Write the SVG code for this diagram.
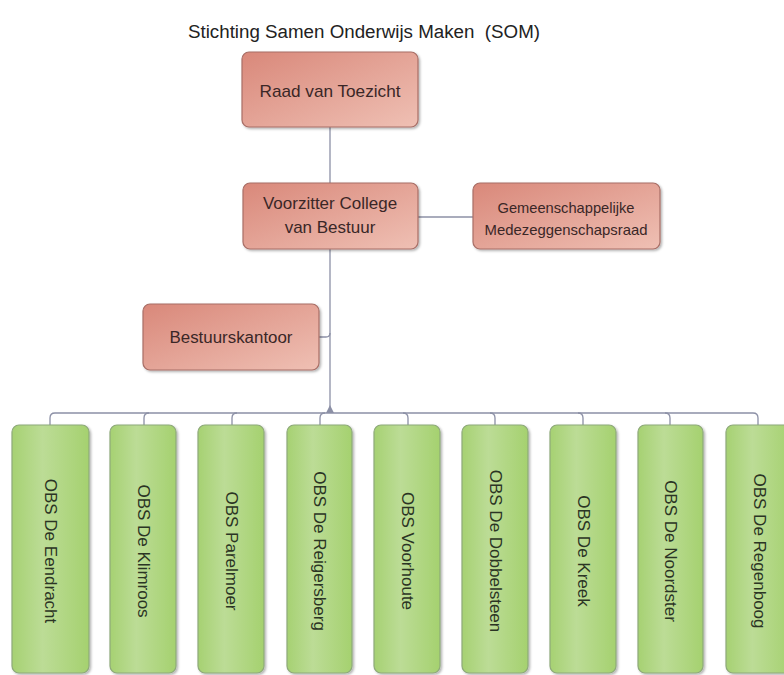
<svg xmlns="http://www.w3.org/2000/svg" width="784" height="675" viewBox="0 0 784 675">
<defs>
<linearGradient id="red" x1="0" y1="0" x2="1" y2="1">
<stop offset="0" stop-color="#d9887a"/>
<stop offset="1" stop-color="#efc0b4"/>
</linearGradient>
<linearGradient id="green" x1="0" y1="0" x2="1" y2="0">
<stop offset="0" stop-color="#a6d172"/>
<stop offset="0.4" stop-color="#bcdc96"/>
<stop offset="1" stop-color="#a5d16f"/>
</linearGradient>
<filter id="sh" x="-10%" y="-10%" width="130%" height="130%">
<feDropShadow dx="1.5" dy="1.5" stdDeviation="1.2" flood-color="#000" flood-opacity="0.3"/>
</filter>
</defs>
<style>
.r{fill:url(#red);stroke:#a86e66;stroke-width:1.2;filter:url(#sh)}
.g{fill:url(#green);stroke:#8ea97a;stroke-width:1.2;filter:url(#sh)}
.t{font-family:"Liberation Sans",Arial,sans-serif;fill:#3a2727;text-anchor:middle}
.gt{font-family:"Liberation Sans",Arial,sans-serif;fill:#2b3424;text-anchor:middle;font-size:17px;dominant-baseline:central}
.c{fill:none;stroke:#8c90a6;stroke-width:1.3}
</style>
<rect width="784" height="675" fill="#fff"/>
<text x="364" y="38" class="t" style="fill:#222;font-size:18px;white-space:pre" xml:space="preserve" textLength="352" lengthAdjust="spacingAndGlyphs">Stichting Samen Onderwijs Maken  (SOM)</text>
<g id="connectors">
<path class="c" d="M330 127 V413"/>
<path class="c" d="M418 217 H473"/>
<path class="c" d="M319 337 H326 Q330 337 330 333"/>
<path class="c" d="M50 425 V418 Q50 413 55 413 H753 Q758 413 758 418 V425"/>
<path class="c" d="M144 425 V418 Q144 413 149 413"/>
<path class="c" d="M232 425 V418 Q232 413 237 413"/>
<path class="c" d="M320 425 V418 Q320 413 325 413"/>
<path class="c" d="M408 425 V418 Q408 413 403 413"/>
<path class="c" d="M495 425 V418 Q495 413 490 413"/>
<path class="c" d="M583 425 V418 Q583 413 578 413"/>
<path class="c" d="M670 425 V418 Q670 413 665 413"/>
<path d="M326 413 L330 405 L334 413 Z" fill="#8c90a6"/>
</g>
<g id="raad"><rect class="r" x="242" y="52" width="176" height="75" rx="7"/><text class="t" x="330" y="97" style="font-size:17px" textLength="141" lengthAdjust="spacingAndGlyphs">Raad van Toezicht</text></g>
<g id="voorzitter"><rect class="r" x="243" y="183" width="175" height="66" rx="7"/><text class="t" x="330" y="209" style="font-size:17px">Voorzitter College</text><text class="t" x="330" y="233" style="font-size:17px">van Bestuur</text></g>
<g id="gmr"><rect class="r" x="473" y="183" width="187" height="66" rx="7"/><text class="t" x="566" y="213" style="font-size:14.5px" textLength="137" lengthAdjust="spacingAndGlyphs">Gemeenschappelijke</text><text class="t" x="566" y="235" style="font-size:14.5px" textLength="163" lengthAdjust="spacingAndGlyphs">Medezeggenschapsraad</text></g>
<g id="bestuurskantoor"><rect class="r" x="143" y="304" width="176" height="66" rx="7"/><text class="t" x="231" y="343" style="font-size:16px" textLength="123" lengthAdjust="spacingAndGlyphs">Bestuurskantoor</text></g>
<g id="s1"><rect class="g" x="12" y="425" width="77" height="248" rx="7"/><text class="gt" transform="translate(50 551) rotate(90)">OBS De Eendracht</text></g>
<g id="s2"><rect class="g" x="110" y="425" width="66" height="248" rx="7"/><text class="gt" transform="translate(143 551) rotate(90)">OBS De Klimroos</text></g>
<g id="s3"><rect class="g" x="198" y="425" width="66" height="248" rx="7"/><text class="gt" transform="translate(231 551) rotate(90)">OBS Parelmoer</text></g>
<g id="s4"><rect class="g" x="287" y="425" width="65" height="248" rx="7"/><text class="gt" transform="translate(319.5 551) rotate(90)">OBS De Reigersberg</text></g>
<g id="s5"><rect class="g" x="374" y="425" width="66" height="248" rx="7"/><text class="gt" transform="translate(407 551) rotate(90)">OBS Voorhoute</text></g>
<g id="s6"><rect class="g" x="462" y="425" width="66" height="248" rx="7"/><text class="gt" transform="translate(495 551) rotate(90)">OBS De Dobbelsteen</text></g>
<g id="s7"><rect class="g" x="550" y="425" width="66" height="248" rx="7"/><text class="gt" transform="translate(583 551) rotate(90)">OBS De Kreek</text></g>
<g id="s8"><rect class="g" x="638" y="425" width="65" height="248" rx="7"/><text class="gt" transform="translate(670.5 551) rotate(90)">OBS De Noordster</text></g>
<g id="s9"><rect class="g" x="726" y="425" width="66" height="248" rx="7"/><text class="gt" transform="translate(759 551) rotate(90)">OBS De Regenboog</text></g>
</svg>
